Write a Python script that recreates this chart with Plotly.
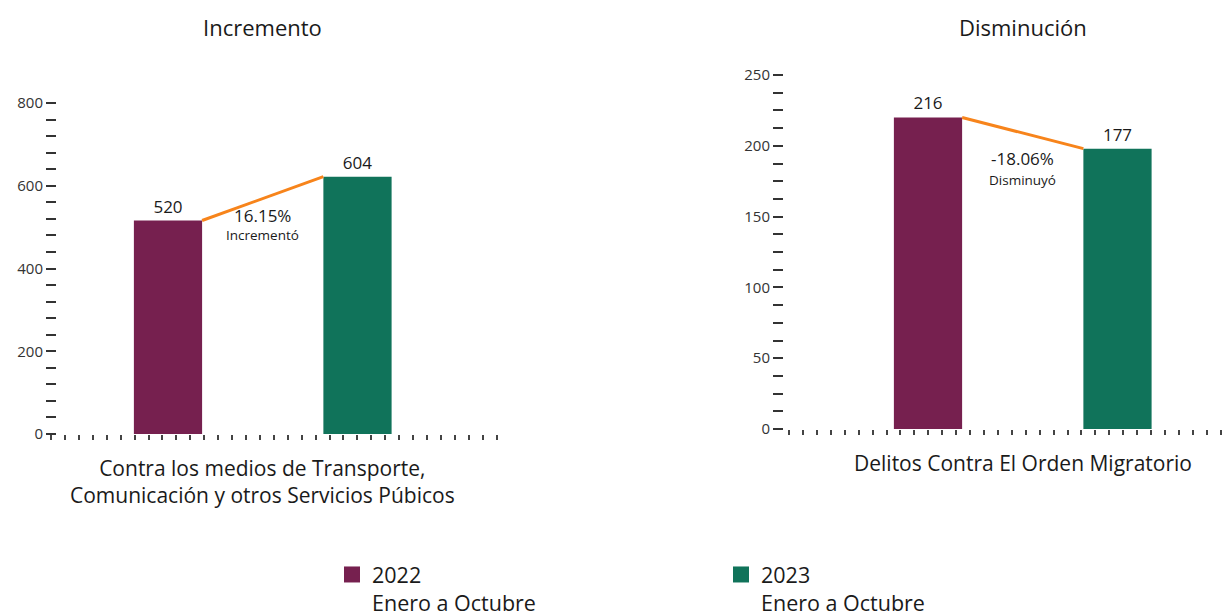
import plotly.graph_objects as go

# datos
categorias = [
    "Contra los medios de Transporte,<br>Comunicación y otros Servicios Púbicos",
    "Delitos Contra El Orden Migratorio",
]
titulos = ["Incremento", "Disminución"]
anios = ["2022<br>Enero a Octubre", "2023<br>Enero a Octubre"]

# alturas de las barras tal como se dibujan y etiquetas mostradas
barras_2022 = [516, 220]
barras_2023 = [622, 198]
etiquetas_2022 = ["520", "216"]
etiquetas_2023 = ["604", "177"]
variacion = ["16.15%", "-18.06%"]
leyenda_var = ["Incrementó", "Disminuyó"]

colores = ["#76204f", "#10735a"]
naranja = "#f7841b"
fuente = "Open Sans"
ancho = 0.36

fig = go.Figure()

ejes = [("x", "y"), ("x2", "y2")]
for i, (xa, ya) in enumerate(ejes):
    for j, (vals, labs) in enumerate([(barras_2022, etiquetas_2022),
                                      (barras_2023, etiquetas_2023)]):
        fig.add_trace(go.Bar(
            x=[j],
            y=[vals[i]],
            text=[labs[i]],
            textposition="outside",
            textfont=dict(size=17, color="#1a1a1a"),
            cliponaxis=False,
            width=ancho,
            marker=dict(color=colores[j], line=dict(width=0)),
            showlegend=False,
            xaxis=xa,
            yaxis=ya,
            hoverinfo="skip",
        ))
    # linea de variacion entre esquinas superiores
    fig.add_trace(go.Scatter(
        x=[ancho / 2, 1 - ancho / 2],
        y=[barras_2022[i], barras_2023[i]],
        mode="lines",
        line=dict(color=naranja, width=3),
        showlegend=False,
        xaxis=xa,
        yaxis=ya,
        cliponaxis=False,
        hoverinfo="skip",
    ))

# entradas de leyenda (cuadros grandes)
for j in range(2):
    fig.add_trace(go.Scatter(
        x=[None], y=[None],
        mode="markers",
        marker=dict(symbol="square", size=18, color=colores[j]),
        name=anios[j],
        showlegend=True,
    ))

W, H = 1232, 615

eje_x = dict(
    showgrid=False, zeroline=False, showline=False,
    showticklabels=False, ticks="outside", ticklen=5,
    tickwidth=1.5, tickcolor="#444", dtick=0.0735,
)
eje_y = dict(
    showgrid=False, zeroline=False, showline=False,
    ticks="outside", ticklen=10, tickwidth=2, tickcolor="#333",
    tickfont=dict(size=15, color="#333"),
    anchor="free",
)

fig.update_layout(
    width=W,
    height=H,
    margin=dict(l=0, r=0, t=0, b=0, autoexpand=False),
    paper_bgcolor="white",
    plot_bgcolor="white",
    font=dict(family=fuente, color="#1a1a1a"),
    barmode="overlay",
    xaxis=dict(eje_x, domain=[43 / W, 489 / W], range=[-0.6174, 1.7362],
               tick0=-0.6174 + 1e-6, anchor="y"),
    yaxis=dict(eje_y, domain=[1 - 426 / H, 1 - 95 / H], range=[0, 800],
               dtick=200, position=48 / W,
               minor=dict(ticks="outside", ticklen=10, tickwidth=2,
                          tickcolor="#333", dtick=40, showgrid=False)),
    xaxis2=dict(eje_x, domain=[781 / W, 1214 / W], range=[-0.7335, 1.5515],
                tick0=-0.7335 + 1e-6, anchor="y2"),
    yaxis2=dict(eje_y, domain=[1 - 421 / H, 1 - 67 / H], range=[0, 250],
                dtick=50, position=775 / W,
                minor=dict(ticks="outside", ticklen=10, tickwidth=2,
                           tickcolor="#333", dtick=12.5, showgrid=False)),
    legend=dict(
        orientation="h",
        x=324 / W, xanchor="left",
        y=1 - 546 / H, yanchor="top",
        font=dict(size=21.5, color="#1a1a1a"),
        entrywidth=344, entrywidthmode="pixels",
        valign="top",
        itemsizing="trace",
        traceorder="normal",
    ),
)

anotaciones = []
pos_var = [(529, 481), (191, 176)]
for i, xr in enumerate(["x", "x2"]):
    yr = "y" if i == 0 else "y2"
    anotaciones.append(dict(
        text=titulos[i], x=0.5, xref=xr, y=1 - 19 / H, yref="paper",
        showarrow=False, font=dict(size=22), xanchor="center", yanchor="middle",
    ))
    anotaciones.append(dict(
        text=categorias[i], x=0.5, xref=xr,
        y=1 - (444 if i == 0 else 439) / H, yref="paper",
        showarrow=False, font=dict(size=21), xanchor="center", yanchor="top",
    ))
    anotaciones.append(dict(
        text=variacion[i], x=0.5, xref=xr, y=pos_var[i][0], yref=yr,
        showarrow=False, font=dict(size=17), xanchor="center", yanchor="middle",
    ))
    anotaciones.append(dict(
        text=leyenda_var[i], x=0.5, xref=xr, y=pos_var[i][1], yref=yr,
        showarrow=False, font=dict(size=13.5), xanchor="center", yanchor="middle",
    ))

fig.update_layout(annotations=anotaciones)

fig.write_html("out.html")
